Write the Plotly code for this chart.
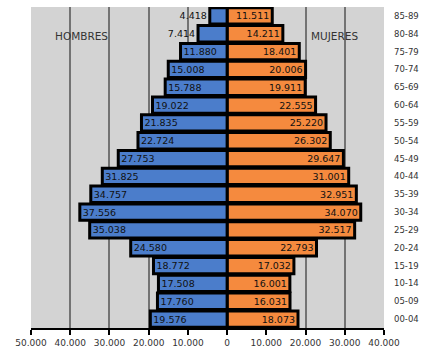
import plotly.graph_objects as go

ages = ["00-04", "05-09", "10-14", "15-19", "20-24", "25-29", "30-34", "35-39",
        "40-44", "45-49", "50-54", "55-59", "60-64", "65-69", "70-74", "75-79",
        "80-84", "85-89"]
hombres = [19576, 17760, 17508, 18772, 24580, 35038, 37556, 34757,
           31825, 27753, 22724, 21835, 19022, 15788, 15008, 11880,
           7414, 4418]
mujeres = [18073, 16031, 16001, 17032, 22793, 32517, 34070, 32951,
           31001, 29647, 26302, 25220, 22555, 19911, 20006, 18401,
           14211, 11511]
hombres_txt = ["19.576", "17.760", "17.508", "18.772", "24.580", "35.038", "37.556", "34.757",
               "31.825", "27.753", "22.724", "21.835", "19.022", "15.788", "15.008", "11.880",
               "7.414", "4.418"]
mujeres_txt = ["18.073", "16.031", "16.001", "17.032", "22.793", "32.517", "34.070", "32.951",
               "31.001", "29.647", "26.302", "25.220", "22.555", "19.911", "20.006", "18.401",
               "14.211", "11.511"]
x_ticks = [-50000, -40000, -30000, -20000, -10000, 0, 10000, 20000, 30000, 40000]
x_ticktext = ["50.000", "40.000", "30.000", "20.000", "10.000", "0",
              "10.000", "20.000", "30.000", "40.000"]

yidx = list(range(len(ages)))
font_main = "DejaVu Sans, Liberation Sans, sans-serif"

male_pos = ["outside" if v < 9000 else "inside" for v in hombres]

fig = go.Figure()
fig.add_trace(go.Bar(
    y=yidx, x=mujeres, orientation="h",
    marker=dict(color="#f58a3e", line=dict(color="black", width=3)),
    text=mujeres_txt, textposition="inside", insidetextanchor="end",
    textangle=0, constraintext="none",
    textfont=dict(family=font_main, size=9.5, color="#111111"),
    hoverinfo="skip", cliponaxis=False,
))
fig.add_trace(go.Bar(
    y=yidx, x=[-v for v in hombres], orientation="h",
    marker=dict(color="#4b7dcb", line=dict(color="black", width=3)),
    text=hombres_txt, textposition=male_pos, insidetextanchor="end",
    textangle=0, constraintext="none",
    textfont=dict(family=font_main, size=9.5, color="#111111"),
    hoverinfo="skip", cliponaxis=False,
))

fig.add_annotation(x=-37000, y=15.9, text="HOMBRES", showarrow=False,
                   font=dict(family=font_main, size=10.5, color="#333333"))
fig.add_annotation(x=27500, y=15.9, text="MUJERES", showarrow=False,
                   font=dict(family=font_main, size=10.5, color="#333333"))

fig.update_layout(
    width=427, height=355,
    margin=dict(l=31, r=43, t=7, b=27),
    paper_bgcolor="white", plot_bgcolor="#d3d3d3",
    barmode="relative", bargap=0.08,
    showlegend=False,
    font=dict(family=font_main),
)
fig.update_xaxes(
    range=[-50000, 40000], tickvals=x_ticks, ticktext=x_ticktext,
    showgrid=True, gridcolor="#737373", gridwidth=1.5,
    zeroline=False, showline=True, linecolor="black", linewidth=1.5,
    ticks="outside", ticklen=5, tickcolor="black", tickwidth=1.5,
    tickfont=dict(size=9, color="#333333"),
)
fig.update_yaxes(
    range=[-0.5, 17.5], tickvals=yidx, ticktext=ages, side="right",
    showgrid=False, zeroline=False, showline=False, ticks="",
    ticklabelstandoff=9,
    tickfont=dict(size=8.5, color="#333333"),
)

fig.write_html("out.html")
